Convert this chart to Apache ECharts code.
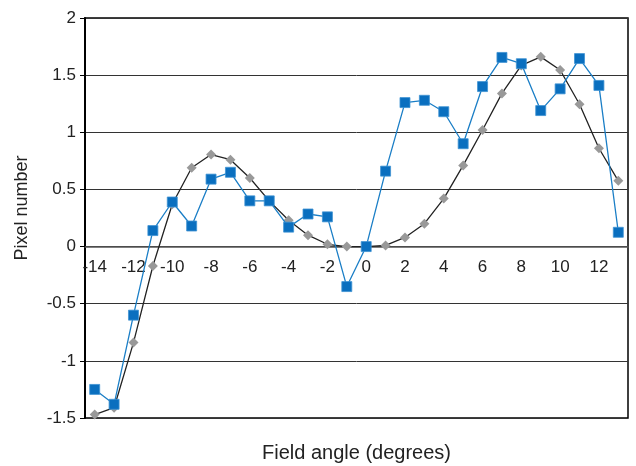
<!DOCTYPE html>
<html lang="en">
<head>
    <meta charset="UTF-8">
    <title>Pixel number vs field angle</title>
    <style>
        body { margin: 0; background: #fff; }
        #chart { width: 636px; height: 466px; }
    </style>
</head>
<body>
    <div id="chart"></div>
    <script src="https://cdn.jsdelivr.net/npm/echarts@6/dist/echarts.min.js"></script>
    <script>
        // field angle categories, -14 .. 13 degrees
        const angles = ['-14', '-13', '-12', '-11', '-10', '-9', '-8', '-7', '-6', '-5', '-4', '-3', '-2', '-1',
                        '0', '1', '2', '3', '4', '5', '6', '7', '8', '9', '10', '11', '12', '13'];

        // measured (blue squares)
        const measured = [-1.25, -1.38, -0.60, 0.14, 0.39, 0.18, 0.59, 0.65, 0.40, 0.40, 0.17, 0.285, 0.26, -0.35,
                          0.00, 0.66, 1.26, 1.28, 1.18, 0.90, 1.40, 1.655, 1.60, 1.19, 1.38, 1.645, 1.41, 0.125];

        // model (grey diamonds)
        const model = [-1.47, -1.41, -0.84, -0.17, 0.37, 0.69, 0.805, 0.76, 0.60, 0.40, 0.23, 0.10, 0.02, 0.00,
                       0.00, 0.01, 0.08, 0.20, 0.42, 0.71, 1.02, 1.34, 1.585, 1.66, 1.545, 1.245, 0.86, 0.575];

        const yMin = -1.5, yMax = 2;

        const chart = echarts.init(document.getElementById('chart'));

        const font = 'Liberation Sans, Arial, Helvetica, sans-serif';

        // plot box: x 85..628, y 18..418
        const gridTop = 18, gridBottom = 48;
        const plotH = 466 - gridTop - gridBottom;
        // second (label-only) grid ends at the zero line, so its axis sits on y = 0
        const zeroBottom = gridBottom + plotH * (0 - yMin) / (yMax - yMin);

        chart.setOption({
            animation: false,
            grid: [
                {
                    left: 85, right: 8, top: gridTop, bottom: gridBottom,
                    outerBoundsMode: 'none', containLabel: false,
                    show: true, borderColor: '#000', borderWidth: 1.5
                },
                {
                    left: 85, right: 8, top: gridTop, bottom: zeroBottom,
                    outerBoundsMode: 'none', containLabel: false
                }
            ],
            xAxis: [
                {
                    gridIndex: 0,
                    type: 'category',
                    data: angles,
                    boundaryGap: true,
                    name: 'Field angle (degrees)',
                    nameLocation: 'middle',
                    nameGap: 25,
                    nameMoveOverlap: false,
                    nameTextStyle: { fontFamily: font, fontSize: 20, color: '#222' },
                    axisLine: { show: false },
                    axisTick: { show: false },
                    axisLabel: { show: false },
                    splitLine: { show: false }
                },
                {
                    gridIndex: 1,
                    type: 'category',
                    data: angles,
                    boundaryGap: true,
                    axisLine: { lineStyle: { color: '#555', width: 1.5 } },
                    axisTick: { inside: true, interval: 0, length: 4, lineStyle: { color: '#333' } },
                    axisLabel: { interval: 1, margin: 12, fontFamily: font, fontSize: 17, color: '#222' },
                    splitLine: { show: false }
                }
            ],
            yAxis: [
                {
                    gridIndex: 0,
                    type: 'value',
                    min: yMin, max: yMax, interval: 0.5,
                    name: 'Pixel number',
                    nameLocation: 'middle',
                    nameGap: 54,
                    nameMoveOverlap: false,
                    nameTextStyle: { fontFamily: font, fontSize: 18, color: '#222', padding: [0, 0, 0, 20] },
                    axisLine: { show: true, lineStyle: { color: '#000', width: 2 } },
                    axisTick: { show: true, length: 5, lineStyle: { color: '#000' } },
                    axisLabel: { margin: 9, fontFamily: font, fontSize: 17, color: '#222' },
                    splitLine: { show: true, lineStyle: { color: '#333', width: 1 } }
                },
                {
                    gridIndex: 1,
                    type: 'value',
                    min: 0, max: yMax,
                    show: false
                }
            ],
            series: [
                {
                    name: 'model',
                    type: 'line',
                    xAxisIndex: 0, yAxisIndex: 0,
                    data: model,
                    symbol: 'diamond',
                    symbolSize: 10,
                    itemStyle: { color: '#999' },
                    lineStyle: { color: '#222', width: 1.3 },
                    z: 2
                },
                {
                    name: 'measured',
                    type: 'line',
                    xAxisIndex: 0, yAxisIndex: 0,
                    data: measured,
                    symbol: 'rect',
                    symbolSize: 10,
                    itemStyle: { color: '#0a6fbf', borderColor: '#3f93d3', borderWidth: 0.8 },
                    lineStyle: { color: '#1a7ec6', width: 1.3 },
                    z: 3
                }
            ]
        });
    </script>
</body>
</html>
